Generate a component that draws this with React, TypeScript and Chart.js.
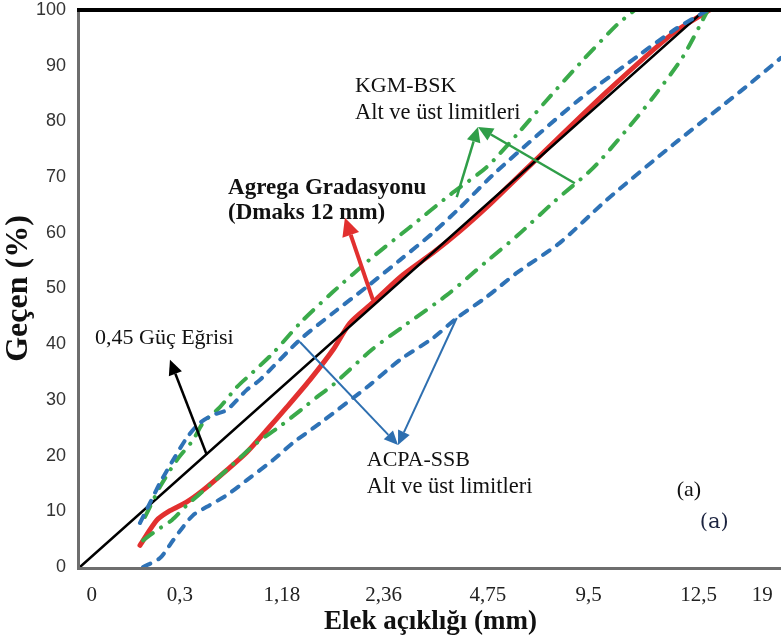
import React, { useEffect, useRef } from "react";
import { Chart, registerables } from "chart.js";

Chart.register(...registerables);

// x axis: position along the 0,45-power sieve scale (0 = origin, 100 = 12,5 mm)
const xTickPos = [1.9, 16.0, 32.3, 48.6, 65.3, 81.4, 99.0, 109.2];
const xTickLabels = ["0", "0,3", "1,18", "2,36", "4,75", "9,5", "12,5", "19"];
const xMax = 112.2;

// 0,45 power curve
const powerX = [0, 100];
const powerY = [0, 100];

// Aggregate gradation (Dmaks 12 mm)
const redX = [9.6, 12.3, 14.4, 17.1, 19.7, 23.5, 26.7, 29.9, 33.1, 36.8, 40.5, 43.2, 46.9, 51.2, 56.5, 60.8, 65.1, 68.8, 73.6, 84.3, 94.9, 100.8];
const redY = [3.9, 8.4, 10.1, 11.7, 13.8, 17.4, 20.6, 24.6, 28.7, 33.6, 39.0, 43.8, 47.5, 52.0, 56.4, 60.3, 64.6, 68.6, 73.8, 85.3, 95.8, 100];

// ACPA-SSB upper / lower limits
const acpaUpX = [9.6, 11.2, 12.8, 14.9, 17.1, 19.2, 21.3, 23.5, 26.7, 28.8, 35.2, 40.5, 45.9, 51.2, 56.5, 60.8, 66.0, 73.6, 80.0, 89.6, 95.2, 100.5];
const acpaUpY = [7.9, 11.5, 15.1, 19.2, 23.2, 25.9, 27.3, 28.2, 31.8, 33.6, 40.8, 45.6, 50.3, 55.1, 60.0, 64.5, 70.3, 77.9, 84.0, 92.0, 96.5, 100];
const acpaLowX = [10.1, 12.8, 14.9, 16.5, 18.1, 20.3, 23.5, 26.7, 30.9, 34.1, 38.4, 46.4, 51.2, 56.5, 60.3, 65.1, 69.9, 76.8, 84.3, 94.9, 105.6, 112.2];
const acpaLowY = [0, 1.6, 4.8, 7.2, 9.3, 10.8, 12.9, 15.6, 19.2, 22.3, 25.8, 32.7, 37.2, 41.1, 44.7, 48.5, 52.8, 58.2, 65.9, 75.8, 85.3, 91.4];

// KGM-BSK upper / lower limits
const kgmUpX = [10.4, 11.2, 12.8, 15.5, 18.1, 19.7, 22.4, 25.1, 27.7, 30.9, 35.4, 40.5, 46.9, 52.8, 59.2, 65.1, 69.9, 74.7, 80.5, 85.9, 88.8];
const kgmUpY = [9.0, 10.8, 14.4, 19.2, 22.8, 25.9, 28.7, 32.3, 35.0, 38.4, 44.0, 49.4, 55.7, 61.0, 66.8, 71.8, 77.6, 83.8, 91.0, 97.3, 100];
const kgmLowX = [10.1, 12.3, 14.7, 17.1, 20.8, 25.6, 28.3, 31.7, 35.7, 37.9, 40.5, 46.7, 52.0, 58.7, 64.8, 70.1, 76.0, 82.1, 87.2, 92.0, 96.5, 100.5];
const kgmLowY = [4.8, 6.6, 8.4, 11.1, 14.7, 19.6, 22.3, 25.0, 28.5, 30.5, 32.7, 39.0, 43.4, 48.8, 54.6, 59.6, 65.7, 71.6, 78.1, 84.7, 91.6, 100];

// annotation texts (data coordinates: left x, middle y)
const noteTexts = [
  { text: "KGM-BSK", x: 44.0, y: 86.4, font: '22px "Liberation Serif"', color: "#111" },
  { text: "Alt ve üst limitleri", x: 44.0, y: 81.5, font: '22.5px "Liberation Serif"', color: "#111" },
  { text: "Agrega Gradasyonu", x: 23.7, y: 68.0, font: 'bold 23px "Liberation Serif"', color: "#111" },
  { text: "(Dmaks 12 mm)", x: 23.7, y: 63.6, font: 'bold 23px "Liberation Serif"', color: "#111" },
  { text: "0,45 Güç Eğrisi", x: 2.4, y: 41.1, font: '22px "Liberation Serif"', color: "#111" },
  { text: "ACPA-SSB", x: 45.9, y: 19.2, font: '22px "Liberation Serif"', color: "#111" },
  { text: "Alt ve üst limitleri", x: 45.9, y: 14.4, font: '22.5px "Liberation Serif"', color: "#111" },
  { text: "(a)", x: 95.5, y: 13.8, font: '22px "Liberation Serif"', color: "#111" },
  { text: "(a)", x: 99.2, y: 7.9, font: '21px "DejaVu Serif"', color: "#1c2440" },
];

// arrows (data coordinates: tail -> tip)
const arrows = [
  { x0: 60.3, y0: 66.4, x1: 63.7, y1: 79.0, color: "#2f9e48", w: 2.5 },
  { x0: 79.2, y0: 68.9, x1: 63.7, y1: 79.0, color: "#2f9e48", w: 2.5 },
  { x0: 46.9, y0: 47.9, x1: 42.4, y1: 62.7, color: "#e2302f", w: 4 },
  { x0: 20.3, y0: 20.1, x1: 14.4, y1: 37.2, color: "#000000", w: 2.5 },
  { x0: 35.2, y0: 40.4, x1: 50.9, y1: 21.9, color: "#2e6fb0", w: 2 },
  { x0: 60.3, y0: 44.7, x1: 50.9, y1: 21.9, color: "#2e6fb0", w: 2 },
];

const pts = (xs: number[], ys: number[]) => xs.map((x, i) => ({ x, y: ys[i] }));

function drawArrow(ctx: CanvasRenderingContext2D, x0: number, y0: number, x1: number, y1: number, color: string, w: number) {
  const ang = Math.atan2(y1 - y0, x1 - x0);
  const hl = 10 + w * 2;
  const hw = 4 + w * 1.2;
  const bx = x1 - Math.cos(ang) * hl;
  const by = y1 - Math.sin(ang) * hl;
  ctx.strokeStyle = color;
  ctx.fillStyle = color;
  ctx.lineWidth = w;
  ctx.lineCap = "butt";
  ctx.beginPath();
  ctx.moveTo(x0, y0);
  ctx.lineTo(bx, by);
  ctx.stroke();
  ctx.beginPath();
  ctx.moveTo(x1, y1);
  ctx.lineTo(bx + Math.sin(ang) * hw, by - Math.cos(ang) * hw);
  ctx.lineTo(bx - Math.sin(ang) * hw, by + Math.cos(ang) * hw);
  ctx.closePath();
  ctx.fill();
}

const decorPlugin = {
  id: "decor",
  beforeDatasetsDraw(chart: any) {
    const { ctx, chartArea } = chart;
    ctx.save();
    ctx.strokeStyle = "#6e6e6e";
    ctx.lineWidth = 3;
    ctx.beginPath();
    ctx.moveTo(chartArea.left - 1.5, chartArea.top);
    ctx.lineTo(chartArea.left - 1.5, chartArea.bottom + 1.5);
    ctx.moveTo(chartArea.left - 3, chartArea.bottom + 1.5);
    ctx.lineTo(chartArea.right, chartArea.bottom + 1.5);
    ctx.stroke();
    ctx.restore();
  },
  afterDraw(chart: any) {
    const { ctx, chartArea, scales } = chart;
    const xs = scales.x;
    const ys = scales.y;
    ctx.save();
    // top border
    ctx.strokeStyle = "#000";
    ctx.lineWidth = 4;
    ctx.beginPath();
    ctx.moveTo(chartArea.left - 3, chartArea.top);
    ctx.lineTo(chartArea.right, chartArea.top);
    ctx.stroke();

    arrows.forEach((a) =>
      drawArrow(ctx, xs.getPixelForValue(a.x0), ys.getPixelForValue(a.y0), xs.getPixelForValue(a.x1), ys.getPixelForValue(a.y1), a.color, a.w)
    );

    ctx.textBaseline = "middle";
    ctx.textAlign = "left";
    noteTexts.forEach((t) => {
      ctx.font = t.font;
      ctx.fillStyle = t.color;
      ctx.fillText(t.text, xs.getPixelForValue(t.x), ys.getPixelForValue(t.y));
    });

    // x tick labels
    ctx.font = '21px "Liberation Serif"';
    ctx.textAlign = "center";
    ctx.fillStyle = "#222";
    xTickPos.forEach((p, i) => {
      ctx.fillText(xTickLabels[i], xs.getPixelForValue(p), chartArea.bottom + 28);
    });
    ctx.restore();
  },
};

export default function App() {
  const ref = useRef<HTMLCanvasElement | null>(null);
  useEffect(() => {
    document.body.style.margin = "0";
    const canvas = ref.current;
    if (!canvas) return;
    const common = { pointRadius: 0, fill: false, borderCapStyle: "round", tension: 0.25 };
    const chart = new Chart(canvas, {
      type: "line",
      data: {
        datasets: [
          { ...common, label: "ACPA-SSB üst", data: pts(acpaUpX, acpaUpY), borderColor: "#2e72b6", borderWidth: 4, borderDash: [8, 9], order: 1 },
          { ...common, label: "ACPA-SSB alt", data: pts(acpaLowX, acpaLowY), borderColor: "#2e72b6", borderWidth: 4, borderDash: [8, 9], order: 1 },
          { ...common, label: "KGM-BSK üst", data: pts(kgmUpX, kgmUpY), borderColor: "#3aaa4a", borderWidth: 4, borderDash: [12, 10, 0.1, 10], order: 2 },
          { ...common, label: "KGM-BSK alt", data: pts(kgmLowX, kgmLowY), borderColor: "#3aaa4a", borderWidth: 4, borderDash: [12, 10, 0.1, 10], order: 2 },
          { ...common, label: "0,45 Güç Eğrisi", data: pts(powerX, powerY), borderColor: "#000", borderWidth: 2.5, tension: 0, order: 3 },
          { ...common, label: "Agrega Gradasyonu", data: pts(redX, redY), borderColor: "#e2302f", borderWidth: 5, order: 4 },
        ],
      },
      options: {
        animation: false,
        responsive: false,
        devicePixelRatio: 1,
        layout: { padding: { top: 10, right: 0, left: 0, bottom: 0 } },
        plugins: { legend: { display: false }, tooltip: { enabled: false } },
        scales: {
          x: {
            type: "linear",
            min: 0,
            max: xMax,
            grid: { display: false, drawTicks: false },
            border: { display: false },
            ticks: { display: false },
            title: {
              display: true,
              text: "Elek açıklığı (mm)",
              color: "#111",
              font: { family: '"Liberation Serif"', size: 27, weight: "bold" },
              padding: { top: 0, bottom: 3 },
            },
            afterFit: (s: any) => {
              s.height = 74;
              s.paddingLeft = 0;
              s.paddingRight = 0;
            },
          },
          y: {
            min: 0,
            max: 100,
            grid: { display: false, drawTicks: false },
            border: { display: false },
            ticks: { stepSize: 10, padding: 14, color: "#333", font: { family: '"Liberation Sans"', size: 18 } },
            title: {
              display: true,
              text: "Geçen (%)",
              color: "#111",
              font: { family: '"Liberation Serif"', size: 32, weight: "bold" },
              padding: { top: 0, bottom: 0 },
            },
            afterFit: (s: any) => {
              s.width = 80;
              s.paddingTop = 0;
              s.paddingBottom = 0;
            },
          },
        },
      } as any,
      plugins: [decorPlugin],
    } as any);
    return () => chart.destroy();
  }, []);
  return (
    <div style={{ width: 781, height: 641 }}>
      <canvas ref={ref} width={781} height={641} style={{ display: "block" }} />
    </div>
  );
}
